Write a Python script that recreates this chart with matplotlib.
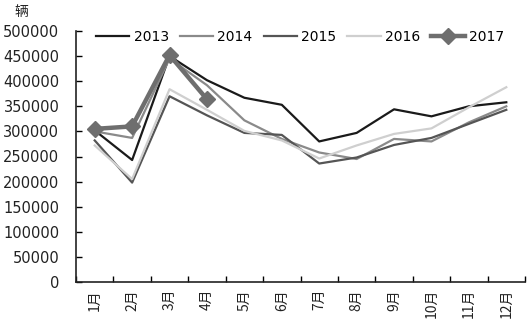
import matplotlib
matplotlib.use("Agg")
import matplotlib.pyplot as plt

plt.rcParams['font.family'] = ['DejaVu Sans', 'Noto Sans CJK SC']

months = ["1月", "2月", "3月", "4月", "5月", "6月", "7月", "8月", "9月", "10月", "11月", "12月"]
s2013 = [302000, 243000, 450000, 402000, 367000, 353000, 280000, 297000, 344000, 330000, 350000, 358000]
s2014 = [300000, 287000, 445000, 392000, 322000, 285000, 258000, 245000, 285000, 280000, 318000, 350000]
s2015 = [282000, 198000, 370000, 332000, 297000, 293000, 236000, 248000, 273000, 287000, 315000, 343000]
s2016 = [272000, 205000, 384000, 343000, 301000, 282000, 246000, 272000, 295000, 306000, 348000, 388000]
s2017 = [305000, 310000, 452000, 364000]
yticks = list(range(0, 500001, 50000))

fig = plt.figure(figsize=(5.27, 3.22), dpi=100)
ax = fig.add_axes([76/527, 1-282/322, 449/527, 251/322])

x = list(range(len(months)))
ax.plot(x, s2013, color='#1a1a1a', lw=1.6, label='2013')
ax.plot(x, s2014, color='#8a8a8a', lw=1.6, label='2014')
ax.plot(x, s2015, color='#555555', lw=1.6, label='2015')
ax.plot(x, s2016, color='#cfcfcf', lw=1.6, label='2016')
ax.plot(x[:len(s2017)], s2017, color='#6e6e6e', lw=3.2, marker='D', ms=8, label='2017')

ax.set_xlim(-0.5, len(months)-0.5)
ax.set_ylim(0, 500000)
ax.set_yticks(yticks)
ax.set_yticklabels([str(v) for v in yticks], fontsize=10.5, color='#222222')
ax.set_xticks([i - 0.5 for i in range(len(months) + 1)], minor=False)
ax.set_xticklabels([])
ax.set_xticks(x, minor=True)
ax.set_xticklabels(months, minor=True, rotation=90, fontsize=10,
                   family=['Noto Sans CJK SC', 'DejaVu Sans'], color='#222222')
ax.tick_params(axis='x', which='minor', length=0, pad=5)
ax.tick_params(axis='x', which='major', direction='in', length=4, width=1)
ax.tick_params(axis='y', direction='in', length=4, width=1, pad=12)
for s in ['top', 'right']:
    ax.spines[s].set_visible(False)
for s in ['left', 'bottom']:
    ax.spines[s].set_linewidth(1.2)
    ax.spines[s].set_color('#222222')

leg = ax.legend(loc='center', bbox_to_anchor=(300/527, 1-37/322), bbox_transform=fig.transFigure,
                ncol=5, frameon=False, fontsize=10, handlelength=2.4, columnspacing=0.8,
                handletextpad=0.3)
fig.text(14/527, 1-12/322, "辆", family=['Noto Sans CJK SC'], fontsize=10,
         ha='left', va='center', color='#222222')

fig.savefig("out.png", dpi=100)
